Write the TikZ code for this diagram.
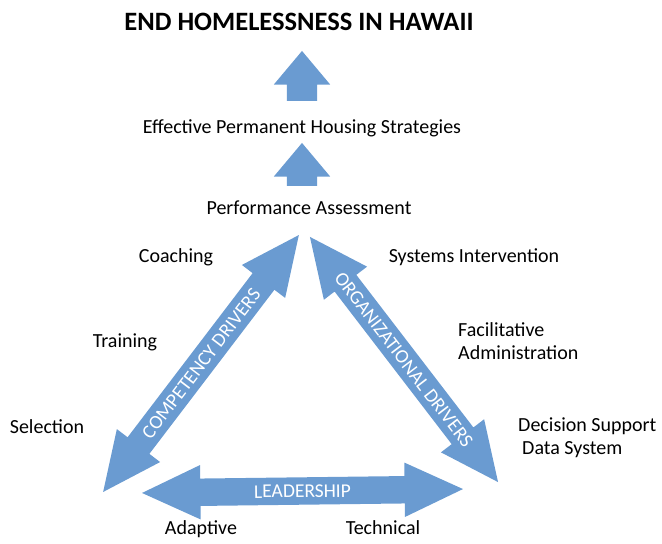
\documentclass[tikz,border=0pt]{standalone}
\usepackage{fontspec}
\setmainfont{Carlito}
\usetikzlibrary{shapes.arrows}
\definecolor{driverBlue}{RGB}{106,155,209}
\tikzset{%
  % Specifications for style of nodes:
        plainText/.style = {inner sep=0pt, font=\fontsize{20}{23}\selectfont},
      headingText/.style = {inner sep=0pt, font=\fontsize{26.5}{30}\bfseries},
          upArrow/.style = {single arrow, fill=driverBlue, rotate=90,
                            inner xsep=0pt, inner ysep=15pt,
                            text height=0pt, text depth=0pt,
                            minimum width=56pt,
                            single arrow head extend=13pt,
                            single arrow tip angle=80},
      twoWayArrow/.style = {double arrow, fill=driverBlue, text=white,
                            inner xsep=0pt, inner ysep=7pt,
                            text height=13pt, text depth=0pt,
                            minimum width=54pt,
                            double arrow head extend=13.5pt,
                            double arrow tip angle=50,
                            font=\fontsize{19.5}{20}\selectfont},
}
\begin{document}
\begin{tikzpicture}[x=1pt, y=-1pt]
  \useasboundingbox (0,0) rectangle (662,544);
  % Specification of texts at the top
  \node (titleText)      [headingText] at (299,22)  {END HOMELESSNESS IN HAWAII};
  \node (housingText)    [plainText]   at (302,128) {Effective Permanent Housing Strategies};
  \node (assessmentText) [plainText]   at (309,208) {Performance Assessment};
  % upward block arrows
  \node (upperUp) [upArrow, minimum height=50pt] at (302,85)    {};
  \node (lowerUp) [upArrow, minimum height=43pt] at (302,173.5) {};
  % the three drivers
  \node (competencyArrow)     [twoWayArrow, minimum height=323pt, rotate=52.7]
                                          at (201,363.5) {COMPETENCY DRIVERS};
  \node (organizationalArrow) [twoWayArrow, minimum height=309pt, rotate=-52.5]
                                          at (404,359.5) {ORGANIZATIONAL DRIVERS};
  \node (leadershipArrow)     [twoWayArrow, minimum height=321pt, rotate=0.7]
                                          at (302.5,491) {LEADERSHIP};
  % components of each driver
  \node (coachingText)  [plainText] at (176,257) {Coaching};
  \node (trainingText)  [plainText] at (125,342) {Training};
  \node (selectionText) [plainText] at (47,427)  {Selection};
  \node (systemsText)   [plainText] at (474,257) {Systems Intervention};
  \node (facilitativeText) [plainText, align=left, anchor=west] at (458,341)
                                                 {Facilitative\\Administration};
  \node (decisionText)  [plainText, align=left, anchor=west] at (518,438)
                                 {Decision Support\\\hspace*{4pt}Data System};
  \node (adaptiveText)  [plainText] at (201,529) {Adaptive};
  \node (technicalText) [plainText] at (383,528) {Technical};
\end{tikzpicture}
\end{document}
